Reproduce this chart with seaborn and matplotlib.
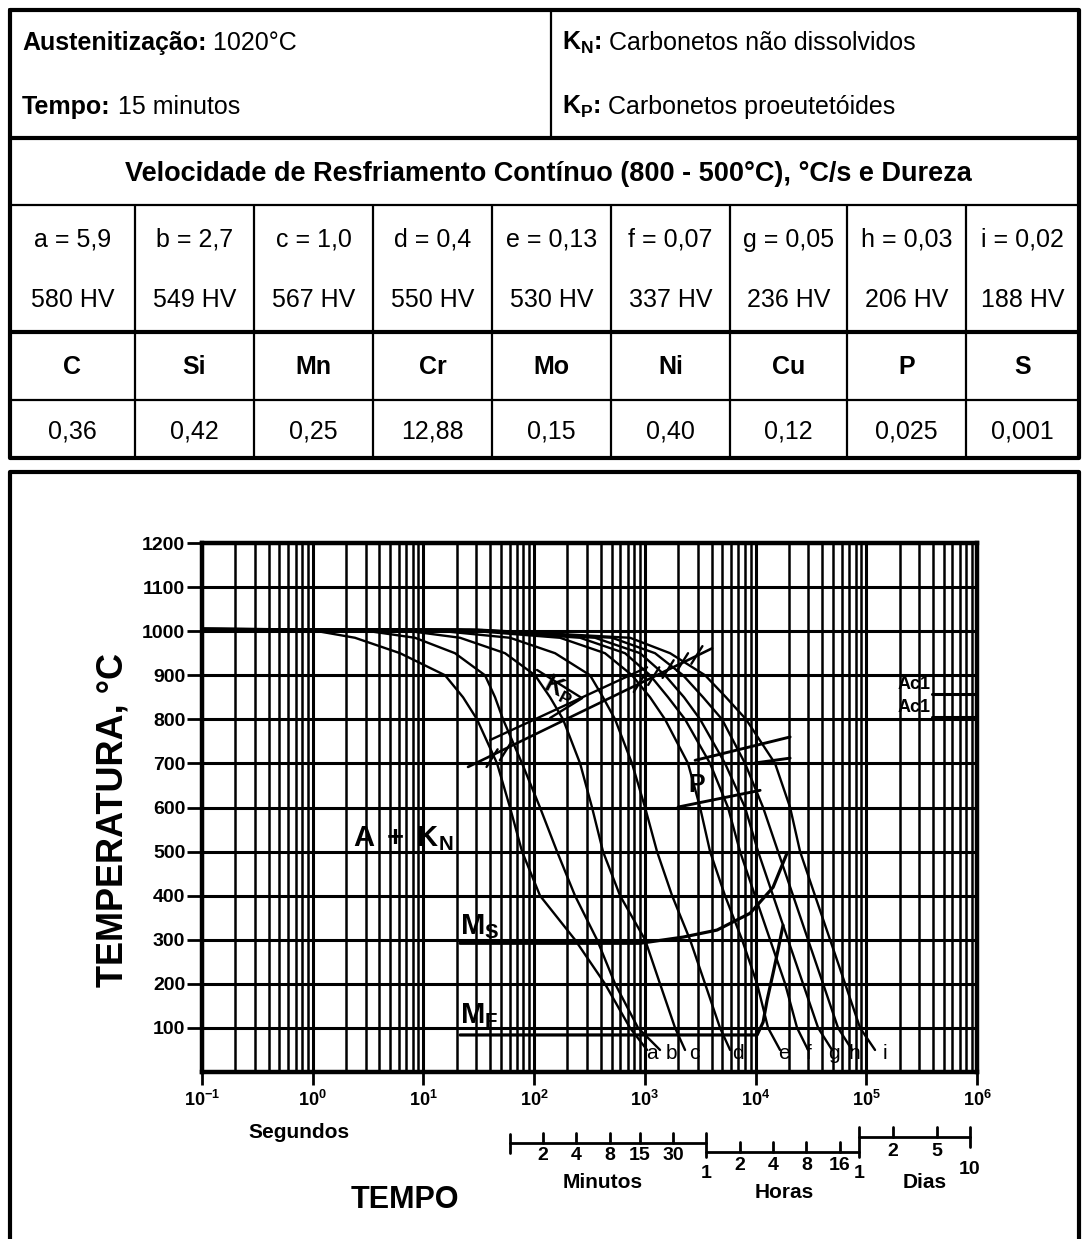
import matplotlib
matplotlib.use("Agg")
import matplotlib.pyplot as plt
import numpy as np
import pandas as pd
import seaborn as sns
from matplotlib.ticker import FixedLocator, NullFormatter
from matplotlib.transforms import blended_transform_factory

sns.set_theme(style="white")
plt.rcParams["font.family"] = ["Liberation Sans", "DejaVu Sans"]
plt.rcParams["mathtext.fontset"] = "custom"
plt.rcParams["mathtext.rm"] = "Liberation Sans"
plt.rcParams["mathtext.bf"] = "Liberation Sans:bold"
plt.rcParams["mathtext.it"] = "Liberation Sans:italic"
for chave in ["text.color", "axes.labelcolor", "xtick.color", "ytick.color"]:
    plt.rcParams[chave] = "black"

# ---- table data ----
curvas = ["a", "b", "c", "d", "e", "f", "g", "h", "i"]
velocidade = ["5,9", "2,7", "1,0", "0,4", "0,13", "0,07", "0,05", "0,03", "0,02"]
dureza = [580, 549, 567, 550, 530, 337, 236, 206, 188]
elementos = ["C", "Si", "Mn", "Cr", "Mo", "Ni", "Cu", "P", "S"]
teores = ["0,36", "0,42", "0,25", "12,88", "0,15", "0,40", "0,12", "0,025", "0,001"]

# ---- cooling curves: log10(time, s) read at these temperatures ----
temperaturas_curva = [1005, 1003, 985, 950, 900, 850, 800, 700, 600, 500, 400, 300, 200, 100, 50]
tempos_log = {
    "a": [-1, -0.024, 0.382, 0.789, 1.195, 1.358, 1.484, 1.665, 1.782, 1.891, 2.053, 2.369, 2.640, 2.866, 3.020],
    "b": [-1, 0.427, 0.924, 1.285, 1.556, 1.647, 1.719, 1.891, 2.053, 2.207, 2.369, 2.568, 2.731, 2.939, 3.137],
    "c": [-1, 0.789, 1.331, 1.737, 2.008, 2.144, 2.261, 2.415, 2.523, 2.622, 2.776, 3.002, 3.137, 3.273, 3.363],
    "d": [-1, 1.060, 1.782, 2.189, 2.505, 2.622, 2.731, 2.884, 3.002, 3.110, 3.246, 3.408, 3.544, 3.679, 3.770],
    "e": [-1, 1.331, 2.234, 2.640, 2.884, 3.047, 3.182, 3.390, 3.499, 3.589, 3.724, 3.878, 4.014, 4.113, 4.221],
    "f": [-1, 1.421, 2.415, 2.821, 3.047, 3.210, 3.363, 3.589, 3.751, 3.860, 3.995, 4.131, 4.267, 4.375, 4.474],
    "g": [-1, 1.466, 2.550, 2.957, 3.182, 3.354, 3.499, 3.724, 3.905, 4.023, 4.158, 4.293, 4.429, 4.565, 4.691],
    "h": [-1, 1.493, 2.704, 3.092, 3.345, 3.526, 3.697, 3.905, 4.068, 4.203, 4.339, 4.474, 4.610, 4.745, 4.872],
    "i": [-1, 1.529, 2.866, 3.228, 3.544, 3.733, 3.914, 4.176, 4.312, 4.402, 4.537, 4.673, 4.809, 4.944, 5.079],
}
rotulo_log = [3.06, 3.24, 3.45, 3.84, 4.26, 4.48, 4.71, 4.89, 5.17]
rotulo_temp = 42

# martensite start / finish
ms_log = [1.331, 2.957, 3.345, 3.652, 3.950, 4.158, 4.285]
ms_temp = [292, 292, 306, 322, 360, 419, 497]
mf_log = [1.331, 4.014, 4.068, 4.104, 4.158, 4.203, 4.248]
mf_temp = [84, 84, 113, 163, 224, 277, 333]

# proeutectoid carbides (Kp) band
kp_baixo_log = [1.403, 2.369, 3.607]
kp_baixo_temp = [692, 810, 961]
kp_alto_log = [1.602, 3.020]
kp_alto_temp = [753, 918]
kp_seta_log = [2.026, 2.433, 2.144]
kp_seta_temp = [912, 848, 803]
hachura_log = [1.62, 1.74, 2.95, 3.08, 3.21, 3.34, 3.47]
hachura_temp = [712, 727, 882, 898, 914, 930, 946]

# pearlite region
p_inicio_log = [3.454, 4.312]
p_inicio_temp = [707, 760]
p_meio_log = [3.995, 4.312]
p_meio_temp = [701, 712]
p_fim_log = [3.300, 4.041]
p_fim_temp = [601, 639]

# Ac lines
ac_log = [5.59, 6.0]
ac_temp = [857, 806]

# time scales under the axis
minutos = [2, 4, 8, 15, 30]
horas = [2, 4, 8, 16]
dias = [2, 5]

W, H = 1087, 1239
fig = plt.figure(figsize=(W / 100, H / 100), dpi=100)
bg = fig.add_axes([0, 0, 1, 1])
bg.set_zorder(0)
bg.set_xlim(0, W)
bg.set_ylim(H, 0)
bg.set_autoscale_on(False)
bg.axis("off")
ax = fig.add_axes([202 / W, 1 - 1072 / H, 775 / W, 529 / H])
ax.set_zorder(1)

# ---------------- table ----------------
preto = "black"
bg.plot([10, 1079, 1079, 10, 10], [10, 10, 458, 458, 10], color=preto, lw=3)
bg.hlines([138, 332], 10, 1079, color=preto, lw=3)
bg.hlines([205, 400], 10, 1079, color=preto, lw=1.6)
bg.vlines(551, 10, 138, color=preto, lw=1.6)
col_x = [10, 135, 254, 373, 492, 611, 730, 847, 966, 1079]
bg.vlines(col_x[1:-1], 205, 458, color=preto, lw=1.6)

renderer = fig.canvas.get_renderer()


def rotulo(x, y, negrito, normal, size=18):
    t = bg.text(x, y, negrito, fontsize=size, fontweight="bold", ha="left", va="baseline")
    bb = t.get_window_extent(renderer=renderer)
    x1 = bg.transData.inverted().transform((bb.x1, bb.y0))[0]
    bg.text(x1, y, normal, fontsize=size, ha="left", va="baseline")


rotulo(22, 50, "Austenitização:", " 1020°C")
rotulo(22, 114, "Tempo:", " 15 minutos")
rotulo(562, 50, r"$\mathbf{K_N}$:", " Carbonetos não dissolvidos")
rotulo(562, 114, r"$\mathbf{K_P}$:", " Carbonetos proeutetóides")

bg.text(548, 174, "Velocidade de Resfriamento Contínuo (800 - 500°C), °C/s e Dureza",
        fontsize=19.5, fontweight="bold", ha="center", va="center")

for k in range(9):
    cx = (col_x[k] + col_x[k + 1]) / 2
    bg.text(cx, 240, f"{curvas[k]} = {velocidade[k]}", fontsize=18, ha="center", va="center")
    bg.text(cx, 300, f"{dureza[k]} HV", fontsize=18, ha="center", va="center")
    bg.text(cx, 367, elementos[k], fontsize=18, fontweight="bold", ha="center", va="center")
    bg.text(cx, 432, teores[k], fontsize=18, ha="center", va="center")

# chart frame
bg.plot([10, 10, 1079, 1079], [1260, 472, 472, 1260], color=preto, lw=3)

# ---------------- CCT diagram ----------------
ax.set_xscale("log")
registros = []
for nome in curvas:
    for lt, temp in zip(tempos_log[nome], temperaturas_curva):
        registros.append({"curva": nome, "tempo": 10.0 ** lt, "temperatura": temp})
df = pd.DataFrame(registros)
sns.lineplot(data=df, x="tempo", y="temperatura", units="curva", estimator=None,
             sort=False, color=preto, lw=1.7, legend=False, ax=ax)


def linha(logs, temps, lw=1.6):
    ax.plot(10.0 ** np.array(logs), temps, color=preto, lw=lw, solid_capstyle="round")


linha(ms_log, ms_temp, 2.3)
linha(mf_log, mf_temp, 2.3)
linha(kp_baixo_log, kp_baixo_temp, 1.9)
linha(kp_alto_log, kp_alto_temp, 1.7)
linha(kp_seta_log, kp_seta_temp, 1.7)
for lt, temp in zip(hachura_log, hachura_temp):
    linha([lt - 0.05, lt + 0.05], [temp - 20, temp + 20], 1.7)
linha(p_inicio_log, p_inicio_temp, 2.1)
linha(p_meio_log, p_meio_temp, 2.1)
linha(p_fim_log, p_fim_temp, 2.1)
for temp in ac_temp:
    linha(ac_log, [temp, temp], 2.2)
    ax.text(10.0 ** (ac_log[0] - 0.01), temp + 2, "Ac1", fontsize=13, fontweight="bold",
            ha="right", va="bottom")

for nome, lt in zip(curvas, rotulo_log):
    ax.text(10.0 ** lt, rotulo_temp, nome, fontsize=15, ha="center", va="center")

ax.text(10.0 ** 0.82, 530, r"$\mathbf{A\ +\ K_N}$", fontsize=21, ha="center", va="center")
ax.text(10.0 ** 1.33, 330, r"$\mathbf{M_S}$", fontsize=21, ha="left", va="center")
ax.text(10.0 ** 1.33, 128, r"$\mathbf{M_F}$", fontsize=21, ha="left", va="center")
ax.text(10.0 ** 2.22, 868, r"$\mathbf{K_P}$", fontsize=18, ha="center", va="center", rotation=-28)
ax.text(10.0 ** 3.47, 650, "P", fontsize=18, fontweight="bold", ha="center", va="center")

ax.set_xlim(1e-1, 1e6)
ax.set_ylim(0, 1200)
ax.set_xlabel("")
ax.set_ylabel("")
ax.xaxis.set_major_locator(FixedLocator(10.0 ** np.arange(-1, 7)))
ax.xaxis.set_minor_locator(FixedLocator([k * 10.0 ** n for n in range(-1, 6) for k in range(2, 10)]))
ax.xaxis.set_minor_formatter(NullFormatter())
ax.set_xticklabels([r"$\mathbf{10^{%d}}$" % n for n in range(-1, 7)])
ax.set_yticks(range(100, 1300, 100))
ax.tick_params(axis="x", which="major", bottom=True, direction="out", length=9, width=2,
               pad=4, labelsize=13, colors=preto)
ax.tick_params(axis="x", which="minor", bottom=True, length=0)
ax.tick_params(axis="y", left=True, direction="out", length=11, width=2, pad=1,
               labelsize=14, colors=preto)
for lab in ax.get_yticklabels():
    lab.set_fontweight("bold")
ax.grid(True, which="major", axis="both", color=preto, lw=2.2)
ax.grid(True, which="minor", axis="x", color=preto, lw=1.8)
for s in ax.spines.values():
    s.set_linewidth(3.2)
    s.set_color(preto)

# ---------------- axis titles & time scales ----------------
bg.text(113, 820, "TEMPERATURA, °C", fontsize=26, fontweight="bold", rotation=90,
        ha="center", va="center")
bg.text(299, 1133, "Segundos", fontsize=15, fontweight="bold", ha="center", va="center")
bg.text(405, 1200, "TEMPO", fontsize=22, fontweight="bold", ha="center", va="center")

tr = blended_transform_factory(ax.transData, bg.transData)
kw = dict(color=preto, lw=2, transform=tr, clip_on=False)
# minutes
bg.plot([60, 3600], [1143, 1143], **kw)
bg.plot([60, 60], [1134, 1153], **kw)
for m in minutos:
    bg.plot([m * 60, m * 60], [1133, 1143], **kw)
    bg.text(m * 60, 1156, str(m), fontsize=14, fontweight="bold", ha="center", va="center", transform=tr)
# hours
bg.plot([3600, 3600], [1133, 1157], **kw)
bg.plot([3600, 86400], [1152, 1152], **kw)
for h in horas:
    bg.plot([h * 3600, h * 3600], [1142, 1152], **kw)
    bg.text(h * 3600, 1165, str(h), fontsize=14, fontweight="bold", ha="center", va="center", transform=tr)
# days
bg.plot([86400, 86400], [1127, 1157], **kw)
bg.plot([86400, 864000], [1137, 1137], **kw)
bg.plot([864000, 864000], [1127, 1147], **kw)
for d in dias:
    bg.plot([d * 86400, d * 86400], [1127, 1137], **kw)
    bg.text(d * 86400, 1152, str(d), fontsize=14, fontweight="bold", ha="center", va="center", transform=tr)
bg.text(864000, 1170, "10", fontsize=14, fontweight="bold", ha="center", va="center", transform=tr)
bg.text(3600, 1173, "1", fontsize=14, fontweight="bold", ha="center", va="center", transform=tr)
bg.text(86400, 1173, "1", fontsize=14, fontweight="bold", ha="center", va="center", transform=tr)
bg.text(603, 1182, "Minutos", fontsize=15, fontweight="bold", ha="center", va="center")
bg.text(784, 1193, "Horas", fontsize=15, fontweight="bold", ha="center", va="center")
bg.text(925, 1182, "Dias", fontsize=15, fontweight="bold", ha="center", va="center")

fig.savefig("out.png", dpi=100, facecolor="white")
